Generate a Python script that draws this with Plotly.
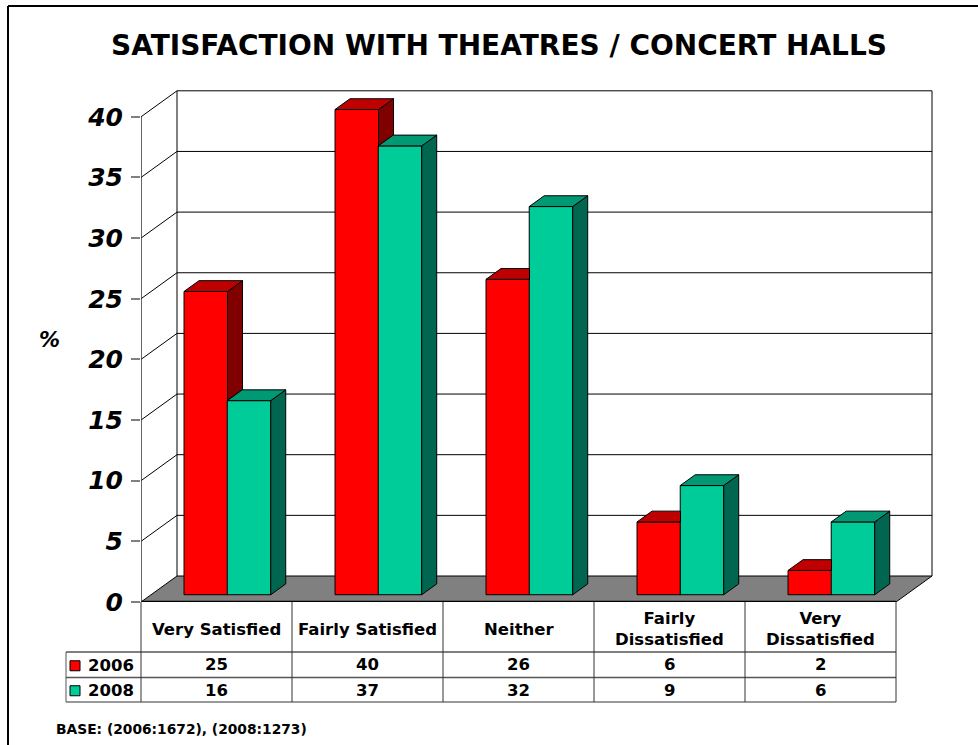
import plotly.graph_objects as go

title = "SATISFACTION WITH THEATRES / CONCERT HALLS"
categories = ["Very Satisfied", "Fairly Satisfied", "Neither", "Fairly<br>Dissatisfied", "Very<br>Dissatisfied"]
years = ["2006", "2008"]
values_2006 = [25, 40, 26, 6, 2]
values_2008 = [16, 37, 32, 9, 6]
y_ticks = [0, 5, 10, 15, 20, 25, 30, 35, 40]
note = "BASE: (2006:1672), (2008:1273)"

FONT = "DejaVu Sans"
W, H = 978, 745
ML, MR, MT, MB = 141, 38, 85, 143
PX_X, PX_Y = 151.0, 12.13
plot_h = H - MT - MB
plot_w = W - ML - MR
x_max = plot_w / PX_X
y_max = plot_h / PX_Y

# depth of the chart box and of the bars, in axis units
WALL_DX, WALL_DY = 36 / PX_X, 26 / PX_Y
BAR_DX, BAR_DY = 15 / PX_X, 10.8 / PX_Y
BAR_BASE = 0.6
BAR_W = 43.5 / PX_X
OFF = {0: 0.429, 1: 0.715}
COL = {
    0: dict(front="#FF0000", top="#BF0000", side="#800000"),
    1: dict(front="#00CC99", top="#009973", side="#006650"),
}


def px(p):
    return (p - ML) / plot_w


def py(p):
    return (H - MB - p) / plot_h


shapes = []


def line(x0, y0, x1, y1, color="black", width=1, layer="above", xref="paper", yref="paper"):
    shapes.append(dict(type="line", x0=x0, y0=y0, x1=x1, y1=y1, xref=xref, yref=yref,
                       line=dict(color=color, width=width), layer=layer))


n = len(categories)
# floor
shapes.append(dict(type="path", xref="x", yref="y", layer="below",
                   path=f"M 0 0 L {WALL_DX} {WALL_DY} L {n + WALL_DX} {WALL_DY} L {n} 0 Z",
                   fillcolor="#808080", line=dict(color="black", width=1)))
# wall grid
for v in y_ticks:
    if v > 0:
        shapes.append(dict(type="path", xref="x", yref="y", layer="below",
                           path=f"M 0 {v} L {WALL_DX} {v + WALL_DY} L {n + WALL_DX} {v + WALL_DY}",
                           line=dict(color="black", width=1)))
top = y_ticks[-1]
for xv in (WALL_DX, n + WALL_DX):
    line(xv, WALL_DY, xv, top + WALL_DY, layer="below", xref="x", yref="y")

# outer frame
line(px(8), py(6), px(978), py(6), width=2)
line(px(8), py(6), px(8), py(745), width=2)

# table
T0, T1, T2, T3 = 602, 652, 677.5, 702
TR = ML + n * PX_X
line(0, 0, n, 0, width=2.5, xref="x", yref="y")
line(px(66), py(T1), px(TR), py(T1))
line(px(66), py(T2), px(TR), py(T2), color="#555555", width=1.5)
line(px(66), py(T3), px(TR), py(T3), color="#333333")
line(px(66), py(T1), px(66), py(T3), color="#555555")
for i in range(n + 1):
    line(px(ML + i * PX_X), py(T0), px(ML + i * PX_X), py(T3), color="#333333")

# legend keys
for i, yk in enumerate(((T1 + T2) / 2 + 1, (T2 + T3) / 2 + 1)):
    shapes.append(dict(type="rect", xref="paper", yref="paper", x0=px(70), x1=px(80),
                       y0=py(yk - 5), y1=py(yk + 5), fillcolor=COL[i]["front"],
                       line=dict(color="black", width=1)))

fig = go.Figure()

series = [values_2006, values_2008]
# front faces
for s, vals in enumerate(series):
    fig.add_trace(go.Bar(
        x=[i + OFF[s] for i in range(n)], y=vals, base=BAR_BASE, width=BAR_W,
        name=years[s], marker=dict(color=COL[s]["front"], line=dict(color="black", width=1)),
        showlegend=False, hoverinfo="skip"))


def poly(xs, ys, color):
    fig.add_trace(go.Scatter(x=xs + xs[:1], y=ys + ys[:1], mode="lines", fill="toself",
                             fillcolor=color, line=dict(color="black", width=1),
                             showlegend=False, hoverinfo="skip"))


# side and top faces; the 2006 bar is hidden behind a taller 2008 bar on its right
for s, vals in enumerate(series):
    for i, v in enumerate(vals):
        xl = i + OFF[s] - BAR_W / 2
        xr = i + OFF[s] + BAR_W / 2
        t = v + BAR_BASE
        bottom = BAR_BASE
        hidden = False
        if s == 0:
            other = series[1][i] + BAR_BASE
            hidden = other >= t
            bottom = other
        if hidden:
            poly([xl, xl + BAR_DX, xr, xr],
                 [t, t + BAR_DY, t + BAR_DY, t], COL[s]["top"])
        else:
            poly([xr, xr + BAR_DX, xr + BAR_DX, xr],
                 [bottom, bottom + BAR_DY, t + BAR_DY, t], COL[s]["side"])
            poly([xl, xl + BAR_DX, xr + BAR_DX, xr],
                 [t, t + BAR_DY, t + BAR_DY, t], COL[s]["top"])

ann = []


def text(x, y, s, size, xref="x", anchor="center", style="normal"):
    ann.append(dict(x=x, y=y, xref=xref, yref="paper", text=s, showarrow=False,
                    xanchor=anchor, yanchor="middle", align="center",
                    font=dict(family=FONT, size=size, color="black", weight="bold", style=style)))


text(px(498.5), py(46), title, 28, xref="paper")
text(px(49), py(340), "%", 21, xref="paper", style="italic")
text(px(54), py(729), note, 13.8, xref="paper", anchor="left")
for i, c in enumerate(categories):
    text(i + 0.5, py((T0 + T1) / 2 + 2), c, 16.5)
    text(i + 0.5, py((T1 + T2) / 2), str(values_2006[i]), 16.5)
    text(i + 0.5, py((T2 + T3) / 2 + 1), str(values_2008[i]), 16.5)
text(px(86), py((T1 + T2) / 2 + 1), years[0], 16.5, xref="paper", anchor="left")
text(px(86), py((T2 + T3) / 2 + 1), years[1], 16.5, xref="paper", anchor="left")

fig.update_layout(
    width=W, height=H, margin=dict(l=ML, r=MR, t=MT, b=MB, pad=0),
    paper_bgcolor="white", plot_bgcolor="rgba(0,0,0,0)",
    barmode="overlay", shapes=shapes, annotations=ann, showlegend=False,
    xaxis=dict(range=[0, x_max], showgrid=False, zeroline=False, showticklabels=False,
               ticks="", showline=False, fixedrange=True),
    yaxis=dict(range=[0, y_max], tickvals=y_ticks, ticktext=[str(v) for v in y_ticks],
               ticks="outside", ticklen=9, tickwidth=1.5, tickcolor="#808080",
               ticklabelstandoff=3,
               showgrid=False, zeroline=False, showline=False, fixedrange=True,
               tickfont=dict(family=FONT, size=25, color="black", weight="bold", style="italic")),
)
# left edge of the chart box runs only up to the top tick
fig.add_shape(type="line", xref="x", yref="y", x0=0, x1=0, y0=0, y1=top,
              line=dict(color="#333333", width=1.5))

fig.write_html("out.html", config=dict(displayModeBar=False),
               post_script="document.body.style.margin='0';document.documentElement.style.overflow='hidden';")
